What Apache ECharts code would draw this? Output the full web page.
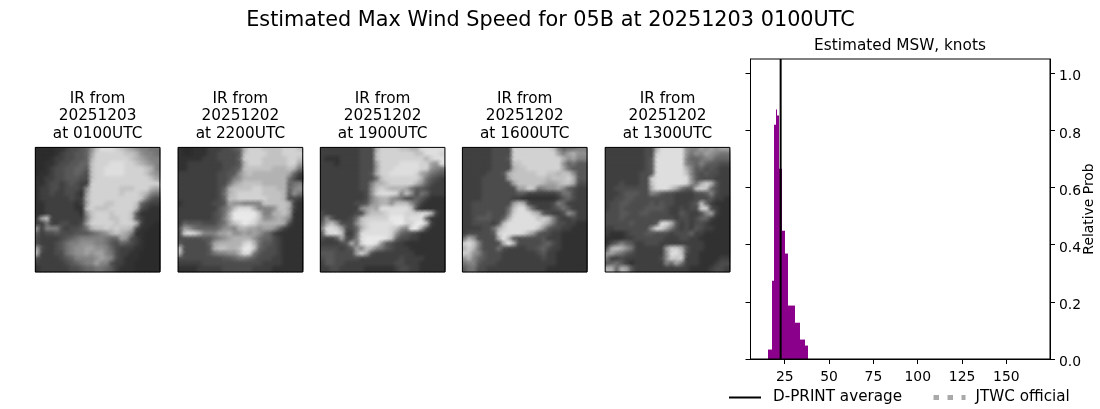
<!DOCTYPE html>
<html><head><meta charset="utf-8">
<style>html,body{margin:0;padding:0;background:#fff}#c{width:1100px;height:409px}</style>
<script src="https://cdn.jsdelivr.net/npm/echarts@6/dist/echarts.min.js"></script>
</head><body><div id="c"></div>
<script>
const imageDates = ['20251203','20251202','20251202','20251202','20251202'];
const imageTimes = ['0100UTC','2200UTC','1900UTC','1600UTC','1300UTC'];
const binStarts = [15.6,17.8,19.0,19.9,20.6,21.8,23.5,25.3,26.8,30.8,33.6,36.4];
const binEnds   = [17.8,19.0,19.9,20.6,21.8,23.5,25.3,26.8,30.8,33.6,36.4,38.1];
const binProbs  = [0.033,0.274,0.82,0.873,0.852,0.666,0.449,0.369,0.187,0.127,0.068,0.047];
const dprintAverage = 22.7;
const xTicks = [25,50,75,100,125,150];
const yTicks = [0,0.2,0.4,0.6,0.8,1.0];
const grayRamp = ['#262626','#2b2b2b','#313131','#3f3f3f','#4c4c4c','#585858','#646464','#727272','#818181','#919191','#a2a2a2','#b2b2b2','#c2c2c2','#d2d2d2','#dedede','#e9e9e9'];
const ir0 = ["111122344569ceeedcba98877","11112344556addddddccb9887","11123344556bdddddddcba988","11223445566cdddeeeddcba98","11234455665cddeeeeddddcb8","12234455654cddeeeeddddca9","22334455544cdddddddddddca","22344345433ddddddddddddddb","23344344439ddddddcccdddba","2334334432addddddcdddcb87","2333333433bddddddddddc854","2233333323adddccddddc6433","2233333322cdcccdddddb4322","22333333329cdddcdddc52222","3ac33333338cdddccddc53222","3373344334adddddcdddb3221","93888434457bccdcdccb42211","534454445556789bcba822111","43333456788888766a9432111","4333457889998875465432111","a433457899aa9986433322111","b333447899a9aa87433221111","4333345688889a98432221111","333333456788a884332211111","2333333445667765322211111"];
const ir1 = ["2112223334456bdddccccdddc","2112223344445cddddcccdddd","2222233344446ddddcccccddc","2233333334445bdddcccccdda","2233333334456ccccccbbbcb7","3333333344559bcbbbbbbba63","3333333344589bbbbbbbbb742","33333333447abccccbbbbb678","3333333346bccccddcccbb689","3333333347bcdddddccccb597","3333333346ccddddddcccb443","2333333445a998888cccccb32","33333333579ceeeb8889cca32","3333333457bfffffc88bbca22","3333333458bffffec99aba822","3655544467acdfedbbbbba422","5a9766667998bbaa9aa963222","4dedb888aab99a9a976322222","4444455789abbbb9766432222","5444446abbbbbdeb755432222","c444445bccbbcffc654432222","b44444578899bed7544432222","4444444445567765444332222","3333344444444444433332222","2222333334444443333222222"];
const ir2 = ["33333333444bddddccbbeeeee","33333333444cdddddddcceeed","32223333444cdddddddddbdee","33323333444addddeeeedda9e","33333333444adddeeeeedd987","33333333445bddeeeeeda9765","333333334447cdddddddb7543","33333333448bbcdddddb96433","33333333449cdcbbba7554333","33333333349deeed8c9476333","33333333348abb98744653222","33333334459abb9ccc9632222","333333339abaeeeeeec422222","433333344acccdeeedddeeb32","49533347cdddddfffdeee6222","6ac94449cdeeeeeffddffc322","8eeda446bdeeeedc98ffa4222","5deec337eeeeeed9654322222","4335a448effffec6443322222","333345b7effe9543322222222","4444345a8cb87543332222222","5554444ada433333333222222","4554444433333333433332222","3554433333333334433322222","3344333332222223443322222"];
const ir3 = ["3333334444ddddddddc867788","3333334444ddddddddda8ab99","3333334445ddddddddddb9a88","3333334444ccdddddddd96755","3333334444bccddddddda7555","333334445bcccccddccbcc955","333344444acccccccbcccdb55","3333444444acccccbaabcca44","33334444444aadc7899a85433","3333444444455333333477433","3333444444332222222356433","3344444444acb433334863333","3344444447ceea63334575333","3344454448deeecb543349733","334555446beeeeecdc8433433","33444435ceeeeeeeca7443322","3333447bdeeeeeec954433222","3444445deeeedb95443322222","7b94444bfb544444533322222","dec84444bfb44444564322222","bdb7444743333445643322222","dc98544433333334533222222","9b86544433333333433222222","7885444333333333333222222","5774433333333333322222222"];
const ir4 = ["3333333344beeeee988a9a9aa","3333333344deeeee9798a9877","3333333345eeeeee866788666","3333333345eeeeee876865544","3333333345eeeeeeb85645433","3333333445eeeeeec85454433","333333344deeeeeee95444333","333433344ceeeeeed97bdb533","334444444beeeca755cdc6433","3334555448754433334458433","3344554444444433334445332","3445544445454433345c63222","3445444455554334344dd4322","444554455444433543348a322","4445444444444434434663222","44444544445eeb53434432222","3344444449eda743435433222","3222344455444344463322222","2222334444443334433222222","2468653344433333333322222","5bcb97333333addb533322222","9a87543333339eec433222222","7334333333349dcd333222233","56753233333386a7333222344","bb6ba53333333333322223443"];
const irImages = [ir0, ir1, ir2, ir3, ir4];

const FONT = '"DejaVu Sans"';
const boxLefts = [35.3, 178.1, 320.3, 462.4, 605.2];
const BOX = 124.6, BOXTOP = 147.4;
const idx = Array.from({length:25}, (_,i)=>i);
const grids = [], xAxes = [], yAxes = [], series = [], soft = [], titles = [];
titles.push({text:'Estimated Max Wind Speed for 05B at 20251203 0100UTC', left:550.5, top:10, padding:0, textAlign:'center',
  textStyle:{fontFamily:FONT,fontSize:20.8,fontWeight:'normal',color:'#000'}});
titles.push({text:'Estimated MSW, knots', left:900, top:39, padding:0, textAlign:'center',
  textStyle:{fontFamily:FONT,fontSize:15.3,fontWeight:'normal',color:'#000'}});
irImages.forEach((rows,k)=>{
  grids.push({left:boxLefts[k], top:BOXTOP, width:BOX, height:BOX, show:true, z:10, backgroundColor:'transparent', borderColor:'#000', borderWidth:1, outerBoundsMode:'none'});
  xAxes.push({gridIndex:k, type:'category', data:idx, show:false});
  yAxes.push({gridIndex:k, type:'category', data:idx, inverse:true, show:false});
  const cells = [];
  rows.forEach((r,y)=>{ for(let x=0;x<r.length&&x<25;x++) cells.push([x,y,parseInt(r[x],16)]); });
  series.push({type:'heatmap', xAxisIndex:k, yAxisIndex:k, data:cells, silent:true, itemStyle:{borderWidth:0}, progressive:0});
  soft.push({type:'custom', xAxisIndex:k, yAxisIndex:k, data:cells, silent:true, z:3, clip:true, progressive:0, encode:{x:0,y:1},
    renderItem:(p,api)=>{
      const c=api.coord([api.value(0),api.value(1)]), s=api.size([1,1]), r=s[0]*1.3, col=grayRamp[api.value(2)];
      return {type:'circle',shape:{cx:c[0],cy:c[1],r},style:{fill:new echarts.graphic.RadialGradient(0.5,0.5,0.5,[
        {offset:0,color:col},{offset:1,color:col+'00'}])}};
    }});
  titles.push({text:'IR from\n'+imageDates[k]+'\nat '+imageTimes[k], left:boxLefts[k]+BOX/2, top:90, padding:0, textAlign:'center',
    textStyle:{fontFamily:FONT,fontSize:15.3,lineHeight:17.5,fontWeight:'normal',color:'#000'}});
});
series.push(...soft);
const axisLine = {show:true,onZero:false,lineStyle:{color:'#000',width:1}};
grids.push({left:750.5, top:59, width:299.5, height:300, show:true, z:10, backgroundColor:'transparent', borderColor:'#000', borderWidth:1, outerBoundsMode:'none'});
xAxes.push({gridIndex:5, type:'value', min:5.7, max:174.6, splitLine:{show:false}, axisLine,
  axisTick:{show:true,length:5,customValues:xTicks,lineStyle:{color:'#000'}},
  axisLabel:{show:true,customValues:xTicks,margin:11,fontFamily:FONT,fontSize:13.9,color:'#000'}});
yAxes.push({gridIndex:5, type:'value', position:'left', min:0, max:1.05, splitLine:{show:false}, axisLine,
  axisTick:{show:true,length:5,customValues:yTicks,lineStyle:{color:'#000'}}, axisLabel:{show:false}});
yAxes.push({gridIndex:5, type:'value', position:'right', min:0, max:1.05, splitLine:{show:false}, axisLine,
  axisTick:{show:true,length:5,customValues:yTicks,lineStyle:{color:'#000'}},
  axisLabel:{show:true,customValues:yTicks,margin:9,fontFamily:FONT,fontSize:13.9,color:'#000',
    formatter:v=>'{a|'+v.toFixed(1)+'}', rich:{a:{fontFamily:FONT,fontSize:13.9,color:'#000',padding:[7,0,0,0]}}},
  name:'Relative Prob', nameLocation:'middle', nameRotate:90, nameGap:32, nameMoveOverlap:false, nameTextStyle:{fontFamily:FONT,fontSize:13.9,color:'#000'}});
series.push({type:'custom', xAxisIndex:5, yAxisIndex:5, silent:true, z:2,
  data:binStarts.map((s,i)=>[s,binEnds[i],binProbs[i]]), encode:{x:[0,1],y:2},
  renderItem:(p,api)=>{
    const a=api.coord([api.value(0),api.value(2)]), b=api.coord([api.value(1),0]);
    const x0=Math.round(a[0]), x1=Math.round(b[0]);
    return {type:'rect',shape:{x:x0,y:a[1],width:x1-x0,height:b[1]-a[1]},style:{fill:'#8b008b'}};
  }});
series.push({name:'D-PRINT average', type:'line', xAxisIndex:5, yAxisIndex:5, z:5, symbol:'none', silent:true,
  data:[[dprintAverage,0],[dprintAverage,1.05]], lineStyle:{color:'#000',width:2}, itemStyle:{color:'#000'}});
series.push({name:'JTWC official', type:'line', xAxisIndex:5, yAxisIndex:5, z:5, symbol:'none', silent:true,
  data:[], lineStyle:{color:'#a9a9a9',width:5,type:[5.5,8.5]}, itemStyle:{color:'#a9a9a9'}});

const chart = echarts.init(document.getElementById('c'), null, {renderer:'canvas'});
chart.setOption({
  animation:false, backgroundColor:'#fff',
  title:titles, grid:grids, xAxis:xAxes, yAxis:yAxes, series,
  visualMap:{show:false, type:'piecewise', seriesIndex:[0,1,2,3,4],
    pieces:grayRamp.map((c,i)=>({value:i,color:c}))},
  legend:{left:728, top:390, orient:'horizontal', itemWidth:32, itemHeight:14, itemGap:29, padding:0, selectedMode:false,
    itemStyle:{color:'transparent',opacity:0,borderWidth:0},
    data:[{name:'D-PRINT average',lineStyle:{color:'#000',width:2,opacity:1}},
          {name:'JTWC official',lineStyle:{color:'#a9a9a9',width:5,type:[5.5,8.5],opacity:1},textStyle:{padding:[0,0,0,5]}}],
    textStyle:{fontFamily:FONT,fontSize:15.2,color:'#000',padding:[0,0,0,7]}}
});
</script></body></html>
